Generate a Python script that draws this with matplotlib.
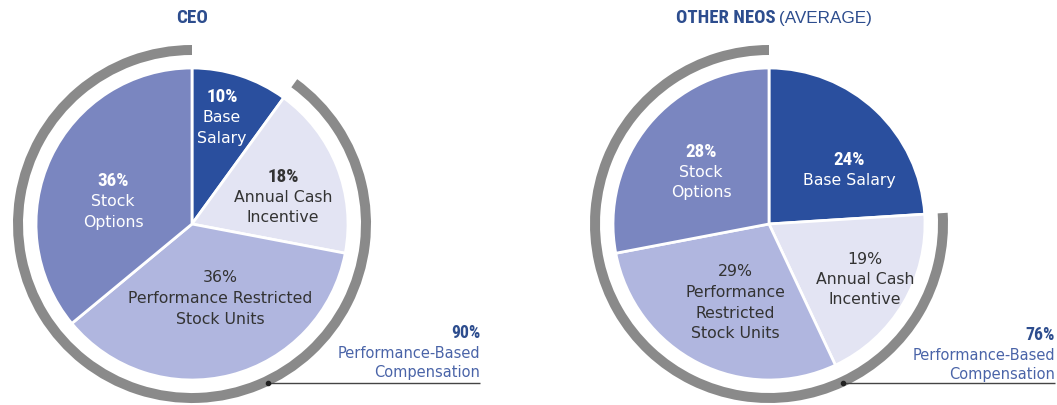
import matplotlib
matplotlib.use("Agg")
import matplotlib.pyplot as plt
import matplotlib.font_manager as fm
from matplotlib.patches import Wedge

# ---- data ----
components = ["Base Salary", "Annual Cash Incentive", "Performance Restricted Stock Units", "Stock Options"]
ceo_values = [10, 18, 36, 36]
neo_values = [24, 19, 29, 28]
ceo_perf_based = 90
neo_perf_based = 76
titles = ["CEO", "OTHER NEOS"]
title_suffix = " (AVERAGE)"

colors = ["#2a4f9e", "#e3e4f3", "#b0b6df", "#7a86c0"]
ring_color = "#8a8a8a"
title_color = "#2d4d8e"
note_color = "#4a64a8"
dark_text = "#333333"

names = {f.name for f in fm.fontManager.ttflist}
cond_candidates = ["Liberation Sans Narrow", "Roboto Condensed", "DejaVu Sans Condensed",
                   "Open Sans Condensed", "Noto Sans Condensed"]
COND = None
for c in cond_candidates:
    if c in names:
        COND = c
        break
REG = "DejaVu Sans"
SANS = "Liberation Sans" if "Liberation Sans" in names else "DejaVu Sans"

W, H = 1057, 405
fig = plt.figure(figsize=(W / 100, H / 100), dpi=100)
ax = fig.add_axes([0, 0, 1, 1])


def Y(py):
    return H - py


R = 156
RING_IN, RING_OUT = 169, 179


def draw(cx, cy, values, perf):
    ax.pie(values, colors=colors, startangle=90, counterclock=False,
           center=(cx, Y(cy)), radius=R, frame=True,
           wedgeprops=dict(edgecolor="white", linewidth=2))
    span = 360 * perf / 100
    ax.add_patch(Wedge((cx, Y(cy)), RING_OUT, 90, 90 + span,
                       width=RING_OUT - RING_IN, facecolor=ring_color,
                       edgecolor="none"))


draw(192, 224, ceo_values, ceo_perf_based)
draw(769, 224, neo_values, neo_perf_based)
ax.set_xlim(0, W)
ax.set_ylim(0, H)
ax.set_aspect("equal")
ax.axis("off")

LS = 20.5  # line spacing in px
FS = 11.3


def bold_text(x, y, s, size, color, ha="center"):
    if COND:
        ax.text(x, Y(y), s, family=COND, fontweight="bold", fontsize=size,
                color=color, ha=ha, va="center")
    else:
        ax.text(x, Y(y), s, family=SANS, fontweight="bold", fontsize=size * 0.85,
                color=color, ha=ha, va="center")


def label(x, y, pct, lines, color, bold_pct=True):
    if bold_pct:
        bold_text(x, y, pct, 13.8, color)
    else:
        ax.text(x, Y(y), pct, family=REG, fontsize=FS, color=color,
                ha="center", va="center")
    for i, ln in enumerate(lines):
        ax.text(x, Y(y + LS * (i + 1)), ln, family=REG, fontsize=FS,
                color=color, ha="center", va="center")


# CEO labels
label(222, 97, f"{ceo_values[0]}%", ["Base", "Salary"], "white")
label(283, 177, f"{ceo_values[1]}%", ["Annual Cash", "Incentive"], dark_text)
label(220, 278, f"{ceo_values[2]}%", ["Performance Restricted", "Stock Units"], dark_text, bold_pct=False)
label(113, 181, f"{ceo_values[3]}%", ["Stock", "Options"], "white")

# NEO labels
label(849, 160, f"{neo_values[0]}%", ["Base Salary"], "white")
label(865, 259, f"{neo_values[1]}%", ["Annual Cash", "Incentive"], dark_text, bold_pct=False)
label(735, 272, f"{neo_values[2]}%", ["Performance", "Restricted", "Stock Units"], dark_text, bold_pct=False)
label(701, 152, f"{neo_values[3]}%", ["Stock", "Options"], "white")

# titles
bold_text(192, 18, titles[0], 13.8, title_color)
bold_text(776, 18, titles[1], 13.5, title_color, ha="right")
ax.text(779, Y(18), title_suffix.strip(), family=SANS, fontsize=12.3,
        color=title_color, ha="left", va="center")


# performance-based annotations
def note(xr, y, dotx, pct):
    bold_text(xr, y, f"{pct}%", 12.8, title_color, ha="right")
    ax.text(xr, Y(y + 20), "Performance-Based", family=REG, fontsize=10.5,
            color=note_color, ha="right", va="center")
    ax.text(xr, Y(y + 39), "Compensation", family=REG, fontsize=10.5,
            color=note_color, ha="right", va="center")
    ax.plot([dotx, xr], [Y(383), Y(383)], color="#444444", lw=1.0,
            solid_capstyle="butt")
    ax.plot([dotx], [Y(383)], "o", color="#222222", ms=3)


note(480, 333, 268, ceo_perf_based)
note(1055, 335, 843, neo_perf_based)

fig.savefig("out.png", dpi=100, facecolor="white")
